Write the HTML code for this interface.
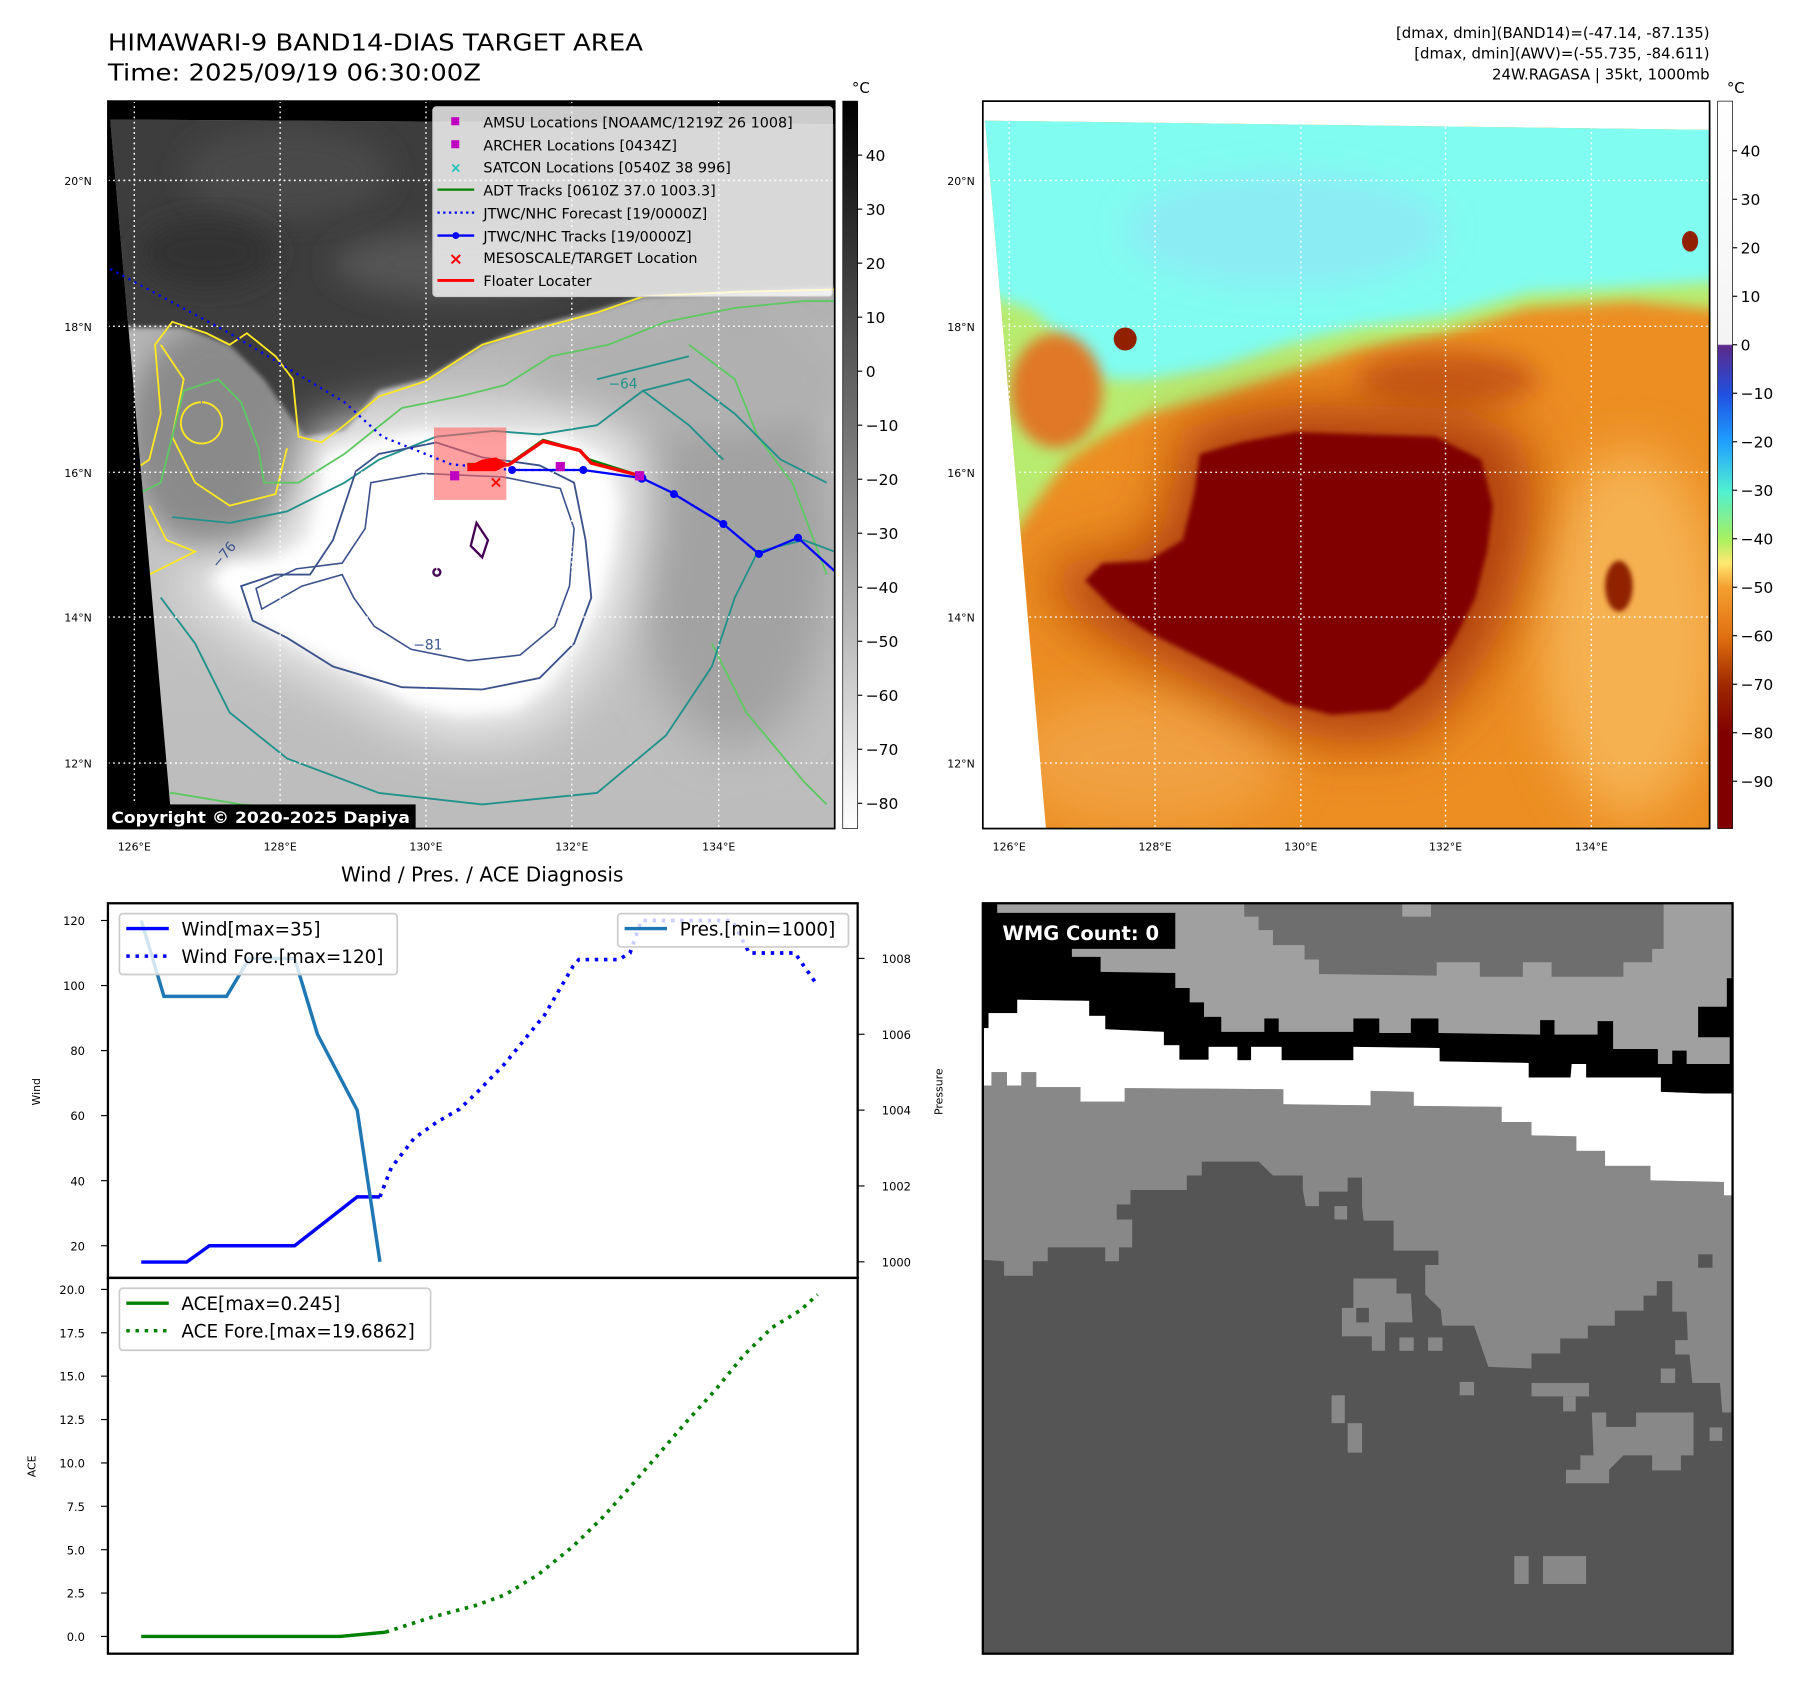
<!DOCTYPE html>
<html><head><meta charset="utf-8"><title>HIMAWARI-9 BAND14 DIAS</title>
<style>
html,body{margin:0;padding:0;background:#fff;}
svg{display:block;font-family:"DejaVu Sans","Liberation Sans",sans-serif;}
</style></head>
<body>
<svg id="fig" xmlns="http://www.w3.org/2000/svg" width="1801" height="1690" viewBox="0 0 1568.6 1470.6" preserveAspectRatio="none">
<defs>
  <filter id="b2" x="-20%" y="-20%" width="140%" height="140%"><feGaussianBlur stdDeviation="2"/></filter>
  <filter id="b6" x="-30%" y="-30%" width="160%" height="160%"><feGaussianBlur stdDeviation="6"/></filter>
  <filter id="b12" x="-30%" y="-30%" width="160%" height="160%"><feGaussianBlur stdDeviation="12"/></filter>
  <filter id="b20" x="-40%" y="-40%" width="180%" height="180%"><feGaussianBlur stdDeviation="20"/></filter>
  <clipPath id="clipL"><polygon points="96,104 727,108 727,721 150,721"/></clipPath>
  <clipPath id="clipR"><polygon points="858,105 1489,113 1489,721 911,721"/></clipPath>
  <clipPath id="clipBR"><rect x="856" y="786" width="653" height="653"/></clipPath>
  <linearGradient id="cbL" x1="0" y1="0" x2="0" y2="1">
    <stop offset="0" stop-color="#000"/><stop offset="1" stop-color="#fff"/>
  </linearGradient>
  <linearGradient id="cbR" x1="0" y1="0" x2="0" y2="1">
    <stop offset="0" stop-color="#ffffff"/><stop offset="0.334" stop-color="#f4f4f4"/>
    <stop offset="0.336" stop-color="#5c2a8a"/><stop offset="0.403" stop-color="#2050e0"/>
    <stop offset="0.469" stop-color="#20a0ff"/><stop offset="0.536" stop-color="#50f0d0"/>
    <stop offset="0.602" stop-color="#a8f060"/><stop offset="0.635" stop-color="#ffe870"/>
    <stop offset="0.668" stop-color="#f5a030"/><stop offset="0.736" stop-color="#e07010"/>
    <stop offset="0.803" stop-color="#a02800"/><stop offset="0.869" stop-color="#800000"/>
    <stop offset="1" stop-color="#800000"/>
  </linearGradient>
  <linearGradient id="lowL" x1="0" y1="0" x2="0" y2="1">
    <stop offset="0" stop-color="#9a9a9a"/><stop offset="0.5" stop-color="#c4c4c4"/><stop offset="1" stop-color="#bcbcbc"/>
  </linearGradient>
  <path id="blob" d="M1045,395 L1080,385 L1128,376 L1250,380 L1290,400 L1300,440 L1295,480 L1285,520 L1265,560 L1240,595 L1210,618 L1160,622 L1120,612 L1080,590 L1040,570 L1000,550 L970,530 L945,505 L960,490 L1000,488 L1030,470 L1040,430 Z"/>
</defs>

<text x="94" y="44" font-size="20" textLength="466" lengthAdjust="spacingAndGlyphs">HIMAWARI-9 BAND14-DIAS TARGET AREA</text>
<text x="94" y="70" font-size="20" textLength="325" lengthAdjust="spacingAndGlyphs">Time: 2025/09/19 06:30:00Z</text>

<g>
  <rect x="94" y="88" width="633" height="633" fill="#000"/>
  <g clip-path="url(#clipL)">
    <rect x="94" y="88" width="633" height="633" fill="url(#lowL)"/>
    <ellipse cx="640" cy="470" rx="90" ry="180" fill="#a2a2a2" filter="url(#b20)"/>
    <ellipse cx="190" cy="380" rx="80" ry="100" fill="#8a8a8a" filter="url(#b12)"/>
    <ellipse cx="600" cy="330" rx="140" ry="50" fill="#b0b0b0" filter="url(#b12)"/>
    <path d="M90,100 L740,100 L740,250 L560,258 L520,270 L460,285 L420,300 L370,330 L330,340 L300,375 L265,380 L230,330 L200,300 L160,285 L90,285 Z" fill="#3c3c3c" filter="url(#b2)"/>
    <ellipse cx="250" cy="150" rx="90" ry="40" fill="#4a4a4a" filter="url(#b12)"/>
    <ellipse cx="400" cy="230" rx="110" ry="30" fill="#555" filter="url(#b12)"/>
    <ellipse cx="180" cy="220" rx="60" ry="30" fill="#333" filter="url(#b12)"/>
    <g transform="translate(-762,0)">
      <use href="#blob" fill="#f0f0f0" filter="url(#b20)" transform="translate(1140,500) scale(1.15) translate(-1140,-500)"/>
      <use href="#blob" fill="#ffffff" filter="url(#b6)"/>
    </g>
    <g fill="none" stroke-width="1.6">
      <path d="M100,420 L130,400 L140,360 L135,300 L150,280 L180,290 L200,300 L215,290 L240,310 L255,330 L260,380 L280,385 L300,370 L330,345 L370,332 L420,300 L460,288 L520,272 L560,258 L640,254 L727,252" stroke="#fde725"/>
      <path d="M140,300 L160,330 L150,380 L170,420 L200,440 L240,430 L250,390 M175,350 a18,18 0 1,0 1,0 M130,440 L145,470 L170,480 L130,500" stroke="#fde725"/>
      <path d="M100,440 L140,420 L150,380 L160,340 L190,330 L210,350 L225,390 L230,420 L260,420 L300,395 L350,355 L400,345 L440,335 L480,310 L530,300 L580,280 L640,268 L700,262 L727,262" stroke="#5ec962"/>
      <path d="M600,300 L640,330 L660,380 L690,420 L720,500 M620,560 L650,620 L700,680 L720,700 M100,700 L150,690 L210,700 L270,705" stroke="#5ec962"/>
      <path d="M150,450 L200,455 L250,445 L300,420 L330,400 L380,380 L430,375 L470,378 L520,370 L560,340 L600,330 L640,360 L680,400 L720,420 M140,520 L170,560 L200,620 L250,660 L330,690 L420,700 L520,690 L580,640 L620,580 L640,520 L660,480 L700,470 L727,480 M520,330 L560,320 L600,310 M560,340 L600,370 L630,400" stroke="#21918c"/>
      <path d="M330,395 L380,385 L420,398 L470,405 L500,420 L510,470 L515,520 L500,560 L470,590 L420,600 L350,598 L290,580 L250,555 L220,540 L210,510 L240,500 L270,500 L290,470 L300,440 L310,410 Z" stroke="#3b528b"/>
      <path transform="translate(-762,0)" d="M1085,420 L1130,412 L1200,415 L1250,425 L1262,460 L1258,510 L1245,545 L1215,570 L1170,575 L1120,565 L1088,545 L1070,520 L1060,500 L1025,510 L990,530 L985,512 L1020,495 L1060,490 L1080,460 Z" stroke="#3b528b" stroke-width="1.4"/>
      <path d="M415,455 L425,470 L420,485 L410,475 Z M380,495 a3,3 0 1,0 1,0" stroke="#440154" stroke-width="2"/>
    </g>
    <g font-size="12" fill="#3b528b">
      <text x="530" y="338" fill="#21918c">−64</text>
      <text x="360" y="565">−81</text>
      <text x="190" y="495" transform="rotate(-50 190 495)">−76</text>
    </g>
    <g stroke="#fff" stroke-width="1.2" stroke-dasharray="1.5 3" fill="none">
      <line x1="94" y1="157" x2="727" y2="157"/><line x1="94" y1="284" x2="727" y2="284"/>
      <line x1="94" y1="411" x2="727" y2="411"/><line x1="94" y1="537" x2="727" y2="537"/>
      <line x1="94" y1="664" x2="727" y2="664"/>
      <line x1="117" y1="88" x2="117" y2="721"/><line x1="244" y1="88" x2="244" y2="721"/>
      <line x1="371" y1="88" x2="371" y2="721"/><line x1="498" y1="88" x2="498" y2="721"/>
      <line x1="626" y1="88" x2="626" y2="721"/>
    </g>
  </g>
  <g stroke="#fff" stroke-width="1.2" stroke-dasharray="1.5 3" fill="none">
    <line x1="117" y1="88" x2="117" y2="721"/><line x1="94" y1="157" x2="727" y2="157"/>
    <line x1="94" y1="284" x2="160" y2="284"/><line x1="94" y1="411" x2="160" y2="411"/>
    <line x1="94" y1="537" x2="160" y2="537"/><line x1="94" y1="664" x2="160" y2="664"/>
    <line x1="244" y1="88" x2="244" y2="110"/><line x1="371" y1="88" x2="371" y2="110"/>
    <line x1="498" y1="88" x2="498" y2="110"/><line x1="626" y1="88" x2="626" y2="110"/>
  </g>
  <g>
    <rect x="378" y="372" width="63" height="63" fill="#ff6060" fill-opacity="0.6"/>
    <polyline points="96,234 200,290 300,350 333,380 393,404 446,409 508,409" fill="none" stroke="#0000ff" stroke-width="2" stroke-dasharray="2 4"/>
    <polyline points="407,404 443,404 473,383 505,392 513,400 554,413" fill="none" stroke="#008000" stroke-width="2.5"/>
    <polyline points="407,404.5 443,404.5 473,384 505,392 515,403 554,413" fill="none" stroke="#ff0000" stroke-width="3"/>
    <polygon points="407,406 420,400 432,398 443,404 432,410 407,410" fill="#ff0000"/>
    <polyline points="446,409 508,409 559,416 584,428 630,456 661,482 695,468 727,497" fill="none" stroke="#0000ff" stroke-width="2"/>
    <g fill="#0000ff">
      <circle cx="446" cy="409" r="3.5"/><circle cx="508" cy="409" r="3.5"/><circle cx="559" cy="416" r="4"/>
      <circle cx="587" cy="430" r="3.5"/><circle cx="630" cy="456" r="3.5"/><circle cx="661" cy="482" r="3.5"/><circle cx="695" cy="468" r="3.5"/>
    </g>
    <g fill="#c000c0">
      <rect x="392" y="410" width="8" height="8"/><rect x="484" y="402" width="8" height="8"/><rect x="553" y="410" width="8" height="8"/>
    </g>
    <text x="432" y="424" font-size="14" font-weight="bold" fill="#ff0000" text-anchor="middle">×</text>
  </g>
  <g>
    <rect x="377" y="93" width="348" height="165" rx="3" fill="#fff" fill-opacity="0.8" stroke="#ccc"/>
    <g font-size="12.5" fill="#000">
      <rect x="393" y="102" width="7" height="7" fill="#c000c0"/><text x="421" y="111">AMSU Locations [NOAAMC/1219Z 26 1008]</text>
      <rect x="393" y="122" width="7" height="7" fill="#c000c0"/><text x="421" y="131">ARCHER Locations [0434Z]</text>
      <text x="397" y="150" fill="#20c0c0" font-size="12" text-anchor="middle" font-weight="bold">×</text><text x="421" y="150">SATCON Locations [0540Z 38 996]</text>
      <line x1="381" y1="165" x2="413" y2="165" stroke="#008000" stroke-width="2"/><text x="421" y="170">ADT Tracks [0610Z 37.0 1003.3]</text>
      <line x1="381" y1="185" x2="413" y2="185" stroke="#0000ff" stroke-width="2" stroke-dasharray="2 3"/><text x="421" y="190">JTWC/NHC Forecast [19/0000Z]</text>
      <line x1="381" y1="205" x2="413" y2="205" stroke="#0000ff" stroke-width="2"/><circle cx="397" cy="205" r="3" fill="#0000ff"/><text x="421" y="210">JTWC/NHC Tracks [19/0000Z]</text>
      <text x="397" y="230" fill="#ff0000" font-size="15" text-anchor="middle" font-weight="bold">×</text><text x="421" y="229">MESOSCALE/TARGET Location</text>
      <line x1="381" y1="244" x2="413" y2="244" stroke="#ff0000" stroke-width="2.5"/><text x="421" y="249">Floater Locater</text>
    </g>
  </g>
  <rect x="94" y="700" width="268" height="21" fill="#000"/>
  <text x="97" y="716" font-size="14" font-weight="bold" fill="#fff" textLength="260" lengthAdjust="spacingAndGlyphs">Copyright © 2020-2025 Dapiya</text>
  <rect x="94" y="88" width="633" height="633" fill="none" stroke="#000" stroke-width="1.5"/>
</g>
<g font-size="9.5" fill="#000">
  <g text-anchor="end"><text x="80" y="161">20°N</text><text x="80" y="288">18°N</text><text x="80" y="415">16°N</text><text x="80" y="541">14°N</text><text x="80" y="668">12°N</text></g>
  <g text-anchor="middle"><text x="117" y="740">126°E</text><text x="244" y="740">128°E</text><text x="371" y="740">130°E</text><text x="498" y="740">132°E</text><text x="626" y="740">134°E</text></g>
</g>
<g>
  <rect x="734" y="88" width="13" height="633" fill="url(#cbL)" stroke="#000" stroke-width="0.6"/>
  <text x="742" y="81" font-size="13">°C</text>
  <g font-size="13.5" id="cbLlabels"></g>
</g>

<g font-size="13" text-anchor="end">
  <text x="1489" y="33">[dmax, dmin](BAND14)=(-47.14, -87.135)</text>
  <text x="1489" y="51">[dmax, dmin](AWV)=(-55.735, -84.611)</text>
  <text x="1489" y="69">24W.RAGASA | 35kt, 1000mb</text>
</g>
<g>
  <rect x="856" y="88" width="633" height="633" fill="#fff"/>
  <g clip-path="url(#clipR)">
    <rect x="856" y="88" width="633" height="633" fill="#ec8e22"/>
    <ellipse cx="1420" cy="550" rx="80" ry="160" fill="#f5b050" filter="url(#b20)"/>
    <ellipse cx="1000" cy="660" rx="120" ry="60" fill="#f0a040" filter="url(#b20)"/>
    <path d="M840,90 L1500,90 L1500,270 L1420,262 L1330,268 L1260,290 L1180,305 L1120,325 L1060,345 L1000,360 L960,380 L930,400 L900,440 L880,470 L840,470 Z" fill="#b8ec70" filter="url(#b6)"/>
    <path d="M840,90 L1500,90 L1500,245 L1420,250 L1330,255 L1260,275 L1180,285 L1120,300 L1060,320 L1000,330 L960,330 L930,300 L900,270 L870,260 L840,260 Z" fill="#80fcf0" filter="url(#b6)"/>
    <ellipse cx="1120" cy="200" rx="140" ry="50" fill="#8cecf4" filter="url(#b12)"/>
    <ellipse cx="920" cy="340" rx="40" ry="50" fill="#e07828" filter="url(#b6)"/>
    <ellipse cx="1260" cy="330" rx="80" ry="25" fill="#c85a18" filter="url(#b12)"/>
    <ellipse cx="1410" cy="510" rx="12" ry="22" fill="#902000" filter="url(#b2)"/>
    <use href="#blob" fill="#b04010" filter="url(#b20)" transform="translate(1120,500) scale(1.2) translate(-1120,-500)"/>
    <use href="#blob" fill="#800000" filter="url(#b2)"/>
    <ellipse cx="980" cy="295" rx="10" ry="10" fill="#902000"/>
    <ellipse cx="1472" cy="210" rx="7" ry="9" fill="#902000"/>
    <g stroke="#fff" stroke-width="1.2" stroke-dasharray="1.5 3" fill="none">
      <line x1="856" y1="157" x2="1489" y2="157"/><line x1="856" y1="284" x2="1489" y2="284"/>
      <line x1="856" y1="411" x2="1489" y2="411"/><line x1="856" y1="537" x2="1489" y2="537"/>
      <line x1="856" y1="664" x2="1489" y2="664"/>
      <line x1="879" y1="88" x2="879" y2="721"/><line x1="1006" y1="88" x2="1006" y2="721"/>
      <line x1="1133" y1="88" x2="1133" y2="721"/><line x1="1259" y1="88" x2="1259" y2="721"/>
      <line x1="1386" y1="88" x2="1386" y2="721"/>
    </g>
  </g>
  <rect x="856" y="88" width="633" height="633" fill="none" stroke="#000" stroke-width="1.5"/>
</g>
<g font-size="9.5" fill="#000">
  <g text-anchor="end"><text x="849" y="161">20°N</text><text x="849" y="288">18°N</text><text x="849" y="415">16°N</text><text x="849" y="541">14°N</text><text x="849" y="668">12°N</text></g>
  <g text-anchor="middle"><text x="879" y="740">126°E</text><text x="1006" y="740">128°E</text><text x="1133" y="740">130°E</text><text x="1259" y="740">132°E</text><text x="1386" y="740">134°E</text></g>
</g>
<g>
  <rect x="1496" y="88" width="13" height="633" fill="url(#cbR)" stroke="#000" stroke-width="0.6"/>
  <text x="1504" y="81" font-size="13">°C</text>
  <g font-size="13.5" id="cbRlabels"></g>
</g>

<text x="420" y="767" font-size="17.5" text-anchor="middle">Wind / Pres. / ACE Diagnosis</text>
<g id="charts"></g>

<g clip-path="url(#clipBR)">
  <g transform="translate(856,786) scale(0.5004,0.4664) translate(-145,-100)">
    <rect x="145" y="100" width="1305" height="1400" fill="#a0a0a0"/>
    <path fill="#6e6e6e" d="M600,100 L1330,100 L1330,185 L1310,185 L1310,210 L1260,210 L1260,237 L1135,237 L1135,210 L1085,210 L1085,237 L1010,237 L1010,210 L935,210 L935,235 L730,232 L730,205 L705,205 L705,178 L650,178 L650,150 L625,150 L625,125 L600,125 Z"/>
    <rect x="875" y="100" width="50" height="25" fill="#a0a0a0"/>
    <path fill="#000" d="M145,100 L170,100 L170,118 L480,118 L480,185 L300,185 L300,200 L350,200 L350,228 L480,230 L480,258 L505,258 L505,285 L530,285 L530,312 L560,312 L560,340 L635,340 L635,315 L660,315 L660,340 L790,340 L790,315 L835,315 L835,342 L890,342 L890,315 L938,315 L938,342 L1115,345 L1115,318 L1140,318 L1140,345 L1215,345 L1215,320 L1242,320 L1242,372 L1320,372 L1320,400 L1345,400 L1345,375 L1370,375 L1370,400 L1445,400 L1445,350 L1390,350 L1390,293 L1440,293 L1440,240 L1450,240 L1450,455 L1400,455 L1325,452 L1325,425 L1195,425 L1195,400 L1170,400 L1168,425 L1095,425 L1095,398 L940,395 L940,370 L790,368 L790,393 L665,393 L665,368 L612,368 L612,393 L588,393 L588,368 L538,368 L538,392 L487,392 L487,365 L460,365 L460,340 L358,335 L358,310 L330,310 L330,282 L205,280 L205,305 L155,305 L155,333 L145,333 Z"/>
    <path fill="#fff" d="M145,333 L155,333 L155,305 L205,305 L205,280 L330,282 L330,310 L358,310 L358,335 L460,340 L460,365 L487,365 L487,392 L538,392 L538,368 L588,368 L588,393 L612,393 L612,368 L665,368 L665,393 L790,393 L790,368 L940,370 L940,395 L1095,398 L1095,425 L1168,425 L1170,400 L1195,400 L1195,425 L1325,425 L1325,452 L1400,455 L1450,455 L1450,645 L1435,645 L1435,620 L1307,617 L1307,590 L1228,590 L1228,562 L1178,562 L1178,535 L1100,533 L1100,508 L1048,508 L1048,480 L895,478 L895,452 L820,450 L820,477 L668,475 L668,447 L392,445 L392,470 L315,470 L315,443 L238,443 L238,415 L212,415 L212,440 L187,440 L187,415 L160,415 L160,440 L145,440 Z"/>
    <path fill="#888" d="M145,440 L160,440 L160,415 L187,415 L187,440 L212,440 L212,415 L238,415 L238,443 L315,443 L315,470 L392,470 L392,445 L668,447 L668,475 L820,477 L820,450 L895,452 L895,478 L1048,480 L1048,508 L1100,508 L1100,533 L1178,535 L1178,562 L1228,562 L1228,590 L1307,590 L1307,617 L1435,620 L1435,645 L1450,645 L1450,1500 L145,1500 Z"/>
    <path fill="#555" d="M145,765 L182,768 L182,795 L232,795 L232,768 L258,768 L258,742 L358,742 L358,768 L382,768 L382,742 L405,742 L405,690 L378,690 L378,662 L402,662 L402,635 L500,635 L500,608 L526,608 L526,582 L625,582 L650,608 L702,608 L702,635 L707,665 L730,665 L730,638 L780,638 L780,612 L805,612 L805,665 L808,692 L860,692 L860,748 L938,748 L938,775 L915,775 L915,830 L942,858 L945,888 L1000,888 L1025,965 L1100,968 L1100,940 L1150,940 L1150,912 L1198,912 L1198,888 L1245,888 L1245,860 L1295,860 L1295,832 L1318,832 L1318,805 L1345,805 L1345,862 L1370,862 L1372,915 L1350,915 L1350,942 L1375,942 L1380,995 L1428,995 L1432,1050 L1450,1050 L1450,1500 L145,1500 Z"/>
    <g fill="#888">
      <path d="M790,800 L865,800 L865,828 L890,828 L893,882 L845,882 L845,935 L822,935 L822,908 L770,908 L770,855 L790,855 Z"/>
      <path d="M1205,1050 L1230,1050 L1230,1077 L1282,1077 L1282,1050 L1382,1050 L1382,1130 L1360,1130 L1360,1158 L1310,1158 L1310,1130 L1260,1130 L1235,1157 L1235,1182 L1160,1182 L1160,1157 L1185,1157 L1185,1130 L1208,1130 Z"/>
      <rect x="1070" y="1318" width="25" height="52"/><rect x="1120" y="1318" width="75" height="52"/>
      <rect x="752" y="1018" width="23" height="52"/><rect x="780" y="1070" width="25" height="55"/>
      <rect x="1100" y="995" width="100" height="25"/><rect x="1155" y="1020" width="22" height="28"/>
      <rect x="975" y="993" width="25" height="25"/><rect x="1410" y="1078" width="22" height="25"/>
      <rect x="757" y="665" width="22" height="25"/><rect x="1325" y="968" width="25" height="27"/>
      <rect x="870" y="910" width="25" height="25"/><rect x="920" y="910" width="25" height="25"/>
    </g>
    <rect x="795" y="855" width="22" height="27" fill="#555"/>
    <rect x="1390" y="755" width="25" height="25" fill="#555"/>
  </g>
  <rect x="861" y="797" width="159" height="28" rx="3" fill="#000"/>
  <text x="873" y="818" font-size="17" font-weight="bold" fill="#fff">WMG Count: 0</text>
</g>
<rect x="856" y="786" width="653" height="653" fill="none" stroke="#000" stroke-width="2"/>

<script>
// ---- chart data ----
const windObsT = [0, 8, 12, 27, 38, 42];
const windObsV = [15, 15, 20, 20, 35, 35];
const windForeT = [42, 44, 48, 52, 56, 59, 64, 71, 76, 77, 84, 86, 88, 104, 107, 115, 119];
const windForeV = [35, 44, 53, 58, 62, 67, 76, 91, 106, 108, 108, 110, 120, 120, 110, 110, 100];
const presT = [0, 4, 15, 19, 27, 31, 38, 42];
const presV = [1009, 1007, 1007, 1008, 1008, 1006, 1004, 1000];
const aceObsT = [0, 35, 43];
const aceObsV = [0, 0, 0.245];
const aceForeT = [43, 51, 59, 64, 70, 76, 81, 86, 91, 96, 101, 106, 111, 116, 119];
const aceForeV = [0.25, 1.1, 1.8, 2.4, 3.6, 5.2, 6.8, 8.6, 10.5, 12.4, 14.2, 16.2, 17.8, 18.8, 19.7];
const windTicks = [20, 40, 60, 80, 100, 120];
const presTicks = [1000, 1002, 1004, 1006, 1008];
const aceTicks = [0, 2.5, 5, 7.5, 10, 12.5, 15, 17.5, 20];
const aceTickLabels = ["0.0", "2.5", "5.0", "7.5", "10.0", "12.5", "15.0", "17.5", "20.0"];
const cbLTicks = [40, 30, 20, 10, 0, -10, -20, -30, -40, -50, -60, -70, -80];
const cbRTicks = [40, 30, 20, 10, 0, -10, -20, -30, -40, -50, -60, -70, -80, -90];

const NS = "http://www.w3.org/2000/svg";
function xS(t) { return 123 + t * 4.95; }
function windY(v) { return 801 + (120 - v) * 2.83; }
function presY(p) { return 1098 - (p - 1000) * 33.0; }
function aceY(v) { return 1424 - v * 15.1; }
function mk(tag, attrs, parent) {
  const e = document.createElementNS(NS, tag);
  for (const k in attrs) e.setAttribute(k, attrs[k]);
  parent.appendChild(e);
  return e;
}
function pts(ts, vs, yf) { return ts.map((t, i) => xS(t).toFixed(1) + "," + yf(vs[i]).toFixed(1)).join(" "); }

const g = document.getElementById("charts");
const f1 = mk("rect", {x: 94, y: 786, width: 653, height: 326, fill: "none", stroke: "#000", "stroke-width": 2}, g);


const f2 = mk("rect", {x: 94, y: 1112, width: 653, height: 327, fill: "none", stroke: "#000", "stroke-width": 2}, g);



windTicks.forEach(v => {
  const y = windY(v);
  mk("line", {x1: 88, x2: 94, y1: y, y2: y, stroke: "#000"}, g);
  const t = mk("text", {x: 74, y: y + 4, "font-size": 10, "text-anchor": "end"}, g);
  t.textContent = v;
  
  
});
presTicks.forEach(v => {
  const y = presY(v);
  mk("line", {x1: 747, x2: 753, y1: y, y2: y, stroke: "#000"}, g);
  const t = mk("text", {x: 768, y: y + 4, "font-size": 10}, g);
  t.textContent = v;
  
  
});
aceTicks.forEach((v, i) => {
  const y = aceY(v);
  mk("line", {x1: 88, x2: 94, y1: y, y2: y, stroke: "#000"}, g);
  const t = mk("text", {x: 74, y: y + 4, "font-size": 10, "text-anchor": "end"}, g);
  t.textContent = aceTickLabels[i];
  
  
});
const yl1 = mk("text", {x: 0, y: 0, "font-size": 9.5, "text-anchor": "middle", transform: "translate(35,950) rotate(-90)"}, g);
yl1.textContent = "Wind";


const yl2 = mk("text", {x: 0, y: 0, "font-size": 9.5, "text-anchor": "middle", transform: "translate(821,950) rotate(-90)"}, g);
yl2.textContent = "Pressure";


const yl3 = mk("text", {x: 0, y: 0, "font-size": 9.5, "text-anchor": "middle", transform: "translate(31,1276) rotate(-90)"}, g);
yl3.textContent = "ACE";



const wl = mk("polyline", {points: pts(windObsT, windObsV, windY), fill: "none", stroke: "#0000ff", "stroke-width": 3}, g);


const wf = mk("polyline", {points: pts(windForeT, windForeV, windY), fill: "none", stroke: "#0000ff", "stroke-width": 3.2, "stroke-dasharray": "3 5"}, g);


const pl = mk("polyline", {points: pts(presT, presV, presY), fill: "none", stroke: "#1f77b4", "stroke-width": 3}, g);


const al = mk("polyline", {points: pts(aceObsT, aceObsV, aceY), fill: "none", stroke: "#008000", "stroke-width": 3}, g);


const af = mk("polyline", {points: pts(aceForeT, aceForeV, aceY), fill: "none", stroke: "#008000", "stroke-width": 3.2, "stroke-dasharray": "3 5"}, g);



function legend(x, y, w, h, items, name) {
  const lg = mk("g", {}, g);
  
  
  mk("rect", {x: x, y: y, width: w, height: h, rx: 3, fill: "#fff", "fill-opacity": 0.8, stroke: "#ccc", "stroke-width": 1.5}, lg);
  items.forEach((it, i) => {
    const cy = y + 13 + i * 24;
    const ln = mk("line", {x1: x + 6, x2: x + 43, y1: cy, y2: cy, stroke: it.c, "stroke-width": 3}, lg);
    if (it.d) ln.setAttribute("stroke-dasharray", "3 5");
    const t = mk("text", {x: x + 54, y: cy + 6, "font-size": 16}, lg);
    t.textContent = it.label;
  });
}
legend(104, 795, 242, 53, [{c: "#0000ff", label: "Wind[max=35]"}, {c: "#0000ff", d: true, label: "Wind Fore.[max=120]"}], "wind-legend");
legend(538, 795, 201, 29, [{c: "#1f77b4", label: "Pres.[min=1000]"}], "pressure-legend");
legend(104, 1121, 271, 54, [{c: "#008000", label: "ACE[max=0.245]"}, {c: "#008000", d: true, label: "ACE Fore.[max=19.6862]"}], "ace-legend");

const cL = document.getElementById("cbLlabels");
cbLTicks.forEach(v => {
  const y = 323 - v * 4.7;
  mk("line", {x1: 747, x2: 751, y1: y, y2: y, stroke: "#000"}, cL);
  const t = mk("text", {x: 754, y: y + 5}, cL);
  t.textContent = v < 0 ? "\u2212" + Math.abs(v) : v;
  
  
});
const cR = document.getElementById("cbRlabels");
cbRTicks.forEach(v => {
  const y = 300 - v * 4.22;
  mk("line", {x1: 1509, x2: 1513, y1: y, y2: y, stroke: "#000"}, cR);
  const t = mk("text", {x: 1516, y: y + 5}, cR);
  t.textContent = v < 0 ? "\u2212" + Math.abs(v) : v;
  
  
});
</script>
</svg>
</body></html>
